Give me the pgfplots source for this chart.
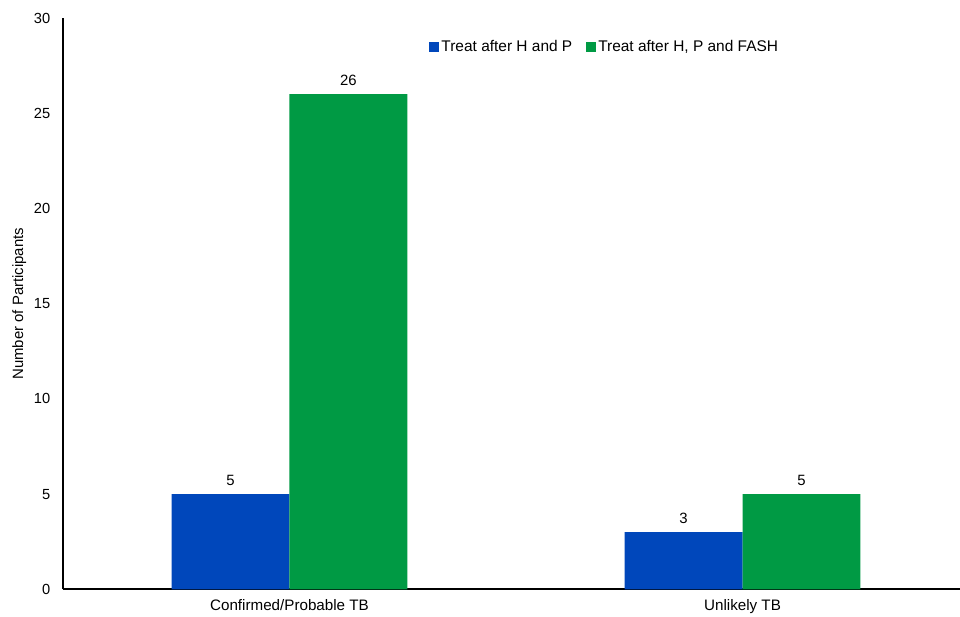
\documentclass[border=0pt]{standalone}
\usepackage{fontspec}
\setmainfont{Liberation Sans}
\usepackage{pgfplots}
\pgfplotsset{compat=1.18}
\definecolor{tbblue}{HTML}{0047BB}
\definecolor{tbgreen}{HTML}{009A44}
\begin{document}
\begin{tikzpicture}
\begin{axis}[
    width=673.5pt, height=429pt, scale only axis,
    ybar=0pt, bar width=0.26,
    xmin=-0.5, xmax=1.48,
    ymin=0, ymax=30,
    xtick={0,1},
    xticklabels={Confirmed/Probable TB, Unlikely TB},
    ytick={0,5,...,30},
    axis x line*=bottom, axis y line*=left,
    axis line style={line width=1.5pt},
    major tick length=0pt,
    tick label style={font=\fontsize{11}{13}\selectfont},
    xticklabel style={yshift=-4pt, font=\fontsize{11.4}{13}\selectfont},
    /pgf/number format/assume math mode=true,
    yticklabel style={xshift=-6pt},
    ylabel={Number of Participants},
    ylabel style={font=\fontsize{11.2}{13}\selectfont, yshift=-1pt},
    nodes near coords,
    nodes near coords style={font=\fontsize{11.2}{13}\selectfont, black, yshift=3pt},
    legend style={draw=none, at={(0.604,0.949)}, anchor=center,
        font=\fontsize{11.6}{13}\selectfont, legend columns=2,
        /tikz/every even column/.append style={column sep=8pt}},
    legend image code/.code={\fill (0pt,-3.75pt) rectangle (7.5pt,3.75pt);},
]
\addplot[fill=tbblue, draw=none] coordinates {(0,5) (1,3)};
\addplot[fill=tbgreen, draw=none] coordinates {(0,26) (1,5)};
\legend{Treat after H and P, {Treat after H, P and FASH}}
\end{axis}
\pgfresetboundingbox
\path[use as bounding box] ([xshift=-47.25pt,yshift=-20.25pt]current axis.south west)
    rectangle ([yshift=13.5pt]current axis.north east);
\end{tikzpicture}
\end{document}
